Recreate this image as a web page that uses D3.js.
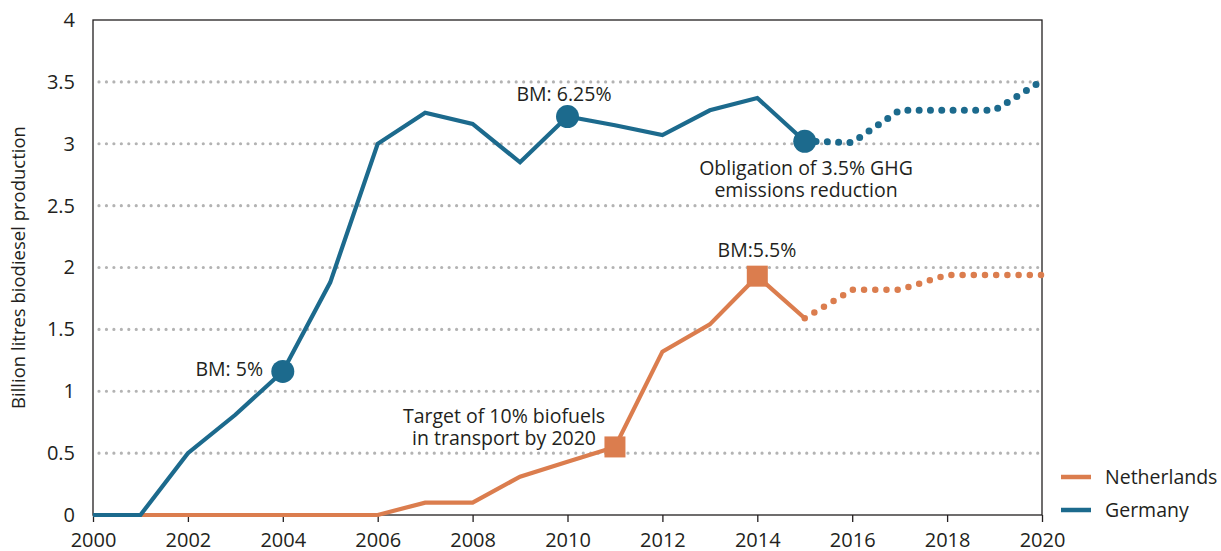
<!DOCTYPE html>
<html><head><meta charset="utf-8">
<script src="https://cdn.jsdelivr.net/npm/d3@7"></script>
<style>body{margin:0;background:#fff} text{font-family:"Open Sans", Lato, sans-serif; fill:#231f20}</style>
</head><body><svg id="c" width="1221" height="551"></svg>
<script>
const years = [2000,2001,2002,2003,2004,2005,2006,2007,2008,2009,2010,2011,2012,2013,2014,2015];
const germany = [0,0,0.5,0.81,1.16,1.88,3.0,3.25,3.16,2.85,3.22,3.15,3.07,3.27,3.37,3.02];
const netherlands = [0,0,0,0,0,0,0,0.1,0.1,0.31,0.43,0.55,1.32,1.54,1.93,1.59];
const projYears = [2015,2016,2017,2018,2019,2020];
const germanyProj = [3.02,3.01,3.27,3.27,3.27,3.51];
const netherlandsProj = [1.59,1.82,1.82,1.94,1.94,1.94];
const germanyMarkers = [2004,2010,2015];
const netherlandsMarkers = [2011,2014];
const yTicks = [0,0.5,1,1.5,2,2.5,3,3.5,4];
const xTicks = [2000,2002,2004,2006,2008,2010,2012,2014,2016,2018,2020];
const seriesNames = ["Netherlands","Germany"];
const yLabel = "Billion litres biodiesel production";

const colG = "#1c6a8d", colN = "#db7d4e";
const FONT = "'Open Sans', Lato, sans-serif";
const svg = d3.select("#c");
const L = 93, R = 1042, T = 20, B = 515;
const x = d3.scaleLinear().domain([2000,2020]).range([L,R]);
const y = d3.scaleLinear().domain([0,4]).range([B,T]);

// gridlines
svg.append("g").selectAll("line").data(yTicks.filter(d=>d>0&&d<4)).join("line")
  .attr("x1",L+6).attr("x2",R-3).attr("y1",d=>y(d)).attr("y2",d=>y(d))
  .attr("stroke","#b3b3b3").attr("stroke-width",3.2).attr("stroke-linecap","round")
  .attr("stroke-dasharray","0 7.45");

// frame
svg.append("rect").attr("x",L).attr("y",T).attr("width",R-L).attr("height",B-T)
  .attr("fill","none").attr("stroke","#231f20").attr("stroke-width",1.3);

// axes
const xAxis = svg.append("g").attr("transform",`translate(0,${B})`)
  .call(d3.axisBottom(x).tickValues(xTicks).tickFormat(d3.format("d")).tickSize(7).tickPadding(11));
xAxis.select(".domain").remove();
xAxis.selectAll("line").attr("stroke","#231f20").attr("stroke-width",1.3);
xAxis.selectAll("text").attr("font-size",20).style("font-family",FONT).attr("fill","#231f20");

const yAxis = svg.append("g").attr("transform",`translate(${L},0)`)
  .call(d3.axisLeft(y).tickValues(yTicks).tickFormat(d=>d).tickSize(0).tickPadding(18));
yAxis.select(".domain").remove();
yAxis.selectAll("text").attr("font-size",20).style("font-family",FONT).attr("fill","#231f20");

svg.append("text").attr("transform",`translate(25,${(T+B)/2}) rotate(-90)`)
  .attr("text-anchor","middle").attr("font-size",18.5).text(yLabel);

const line = d3.line().x(d=>x(d[0])).y(d=>y(d[1]));
const gData = years.map((yr,i)=>[yr,germany[i]]);
const nData = years.map((yr,i)=>[yr,netherlands[i]]);
const gProj = projYears.map((yr,i)=>[yr,germanyProj[i]]);
const nProj = projYears.map((yr,i)=>[yr,netherlandsProj[i]]);

// projections (dotted)
svg.append("path").attr("d",line(nProj)).attr("fill","none").attr("stroke",colN)
  .attr("stroke-width",6.5).attr("stroke-linecap","round").attr("stroke-dasharray","0 11.2");
svg.append("path").attr("d",line(gProj)).attr("fill","none").attr("stroke",colG)
  .attr("stroke-width",7).attr("stroke-linecap","round").attr("stroke-dasharray","0 11.3");

// solid lines
svg.append("path").attr("d",line(nData)).attr("fill","none").attr("stroke",colN)
  .attr("stroke-width",4.2).attr("stroke-linejoin","miter");
svg.append("path").attr("d",line(gData)).attr("fill","none").attr("stroke",colG)
  .attr("stroke-width",4.2).attr("stroke-linejoin","miter");

// markers
svg.append("g").selectAll("circle").data(germanyMarkers).join("circle")
  .attr("cx",d=>x(d)).attr("cy",d=>y(germany[years.indexOf(d)])).attr("r",11.5).attr("fill",colG);
svg.append("g").selectAll("rect").data(netherlandsMarkers).join("rect")
  .attr("x",d=>x(d)-10.5).attr("y",d=>y(netherlands[years.indexOf(d)])-10.5)
  .attr("width",21).attr("height",21).attr("fill",colN);

// annotations
const ann = [
  {t:["BM: 5%"], x:263, y:376, a:"end"},
  {t:["BM: 6.25%"], x:564, y:101, a:"middle"},
  {t:["Obligation of 3.5% GHG","emissions reduction"], x:806, y:175, a:"middle"},
  {t:["BM:5.5%"], x:757, y:257, a:"middle"},
  {t:["Target of 10% biofuels","in transport by 2020"], x:504, y:423, a:"middle"}
];
ann.forEach(a=>{
  a.t.forEach((s,i)=>svg.append("text").attr("text-anchor",a.a).attr("font-size",19.5)
    .attr("x",a.x).attr("y",a.y+i*22).text(s));
});

// legend
const leg = svg.append("g");
seriesNames.forEach((n,i)=>{
  const yy = 477 + i*33;
  leg.append("line").attr("x1",1061).attr("x2",1091).attr("y1",yy).attr("y2",yy)
    .attr("stroke", n==="Germany"?colG:colN).attr("stroke-width",4.5);
  leg.append("text").attr("x",1105).attr("y",yy+7).attr("font-size",19.5).text(n);
});
</script></body></html>
